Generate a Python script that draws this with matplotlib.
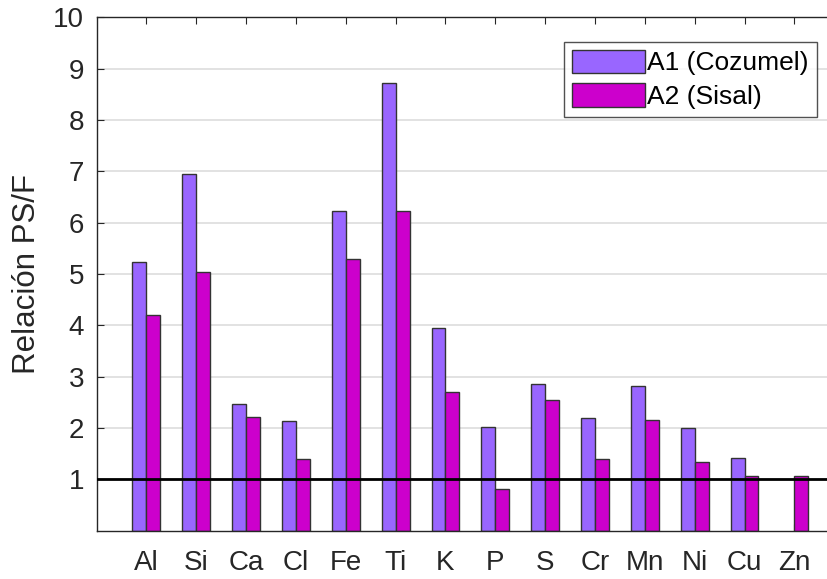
import numpy as np
import matplotlib
matplotlib.use("Agg")
import matplotlib.pyplot as plt

plt.rcParams["font.family"] = ["Liberation Sans", "DejaVu Sans"]

elements = ["Al", "Si", "Ca", "Cl", "Fe", "Ti", "K", "P", "S", "Cr", "Mn", "Ni", "Cu", "Zn"]
cozumel = [5.23, 6.95, 2.46, 2.13, 6.23, 8.72, 3.95, 2.03, 2.85, 2.20, 2.82, 2.00, 1.42, np.nan]
sisal = [4.20, 5.04, 2.22, 1.40, 5.30, 6.23, 2.71, 0.82, 2.55, 1.40, 2.16, 1.34, 1.07, 1.07]
series_names = ["A1 (Cozumel)", "A2 (Sisal)"]
y_ticks = list(range(1, 11))


def main():
    fig = plt.figure(figsize=(8.28, 5.79), dpi=100)
    ax = fig.add_axes([0.1166, 0.0834, 0.903, 0.8864])

    x = np.arange(1, len(elements) + 1)
    w = 0.28
    ax.bar(x - w / 2, cozumel, w, color="#9966ff", edgecolor="#333333",
           linewidth=1, label=series_names[0], zorder=2)
    ax.bar(x + w / 2, sisal, w, color="#cc00cc", edgecolor="#333333",
           linewidth=1, label=series_names[1], zorder=2)
    ax.axhline(1, color="black", linewidth=2, zorder=3)

    ax.set_xlim(0, 15)
    ax.set_ylim(0, 10)
    ax.set_xticks(x)
    ax.set_xticklabels(elements)
    ax.set_yticks(y_ticks)
    ax.set_axisbelow(True)
    ax.yaxis.grid(True, color="#dddddd", linewidth=1.2)
    ax.tick_params(direction="in", top=True, right=False, labelsize=20,
                   length=5, width=0.8, colors="#262626", pad=14)
    ax.tick_params(axis="y", pad=9)
    for s in ax.spines.values():
        s.set_color("#262626")
        s.set_linewidth(1)
    ax.set_ylabel("Relación PS/F", fontsize=22.5, color="#262626", labelpad=8)

    leg = ax.legend(loc="upper right", bbox_to_anchor=(0.963, 0.953), fontsize=19,
                    frameon=True, fancybox=False, edgecolor="#262626",
                    handlelength=2.75, handleheight=1.0, handletextpad=0.1,
                    borderpad=0.3, labelspacing=0.3, borderaxespad=0)
    leg.get_frame().set_linewidth(1)

    fig.savefig("out.png", dpi=100)


if __name__ == "__main__":
    main()
